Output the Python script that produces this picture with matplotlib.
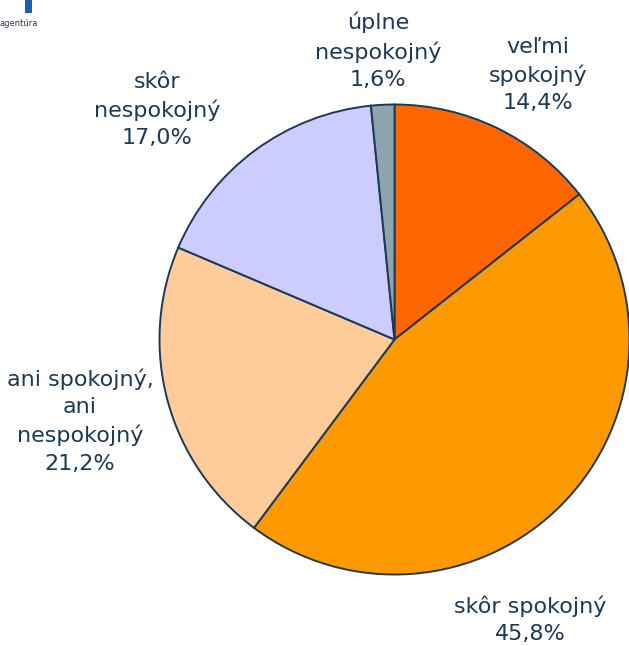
import matplotlib.pyplot as plt

labels = ["veľmi\nspokojný", "skôr spokojný", "ani spokojný,\nani\nnespokojný",
          "skôr\nnespokojný", "úplne\nnespokojný"]
values = [14.4, 45.8, 21.2, 17.0, 1.6]
colors = ["#FF6600", "#FF9900", "#FFCC99", "#CCCCFF", "#8FA5AE"]

# label positions in image pixels (x, y from top)
label_pos = [(538, 75), (530, 620), (80, 421), (157, 110), (378, 51)]

W, H = 629, 646
fig = plt.figure(figsize=(W / 100, H / 100), dpi=100)
ax = fig.add_axes([0, 0, 1, 1])

cx, cy, r = 394.5, H - 339.5, 235
ax.pie(values, colors=colors, startangle=90, counterclock=False,
       center=(cx, cy), radius=r,
       wedgeprops=dict(edgecolor="#1B3A57", linewidth=1.4))

text_color = "#1B3A57"
for lab, v, (x, y) in zip(labels, values, label_pos):
    s = lab + "\n" + f"{v:.1f}".replace(".", ",") + "%"
    ax.text(x, H - y, s, ha="center", va="center", fontsize=16,
            color=text_color, linespacing=1.45)

# logo fragment in the corner
ax.add_patch(plt.Rectangle((25, H - 13), 7, 13, color="#1F5FAF", lw=0))
ax.text(-1, H - 23, "agentúra", fontsize=6, color="#1B3A57", ha="left", va="center")

ax.set_xlim(0, W)
ax.set_ylim(0, H)
ax.axis("off")
fig.savefig("out.png", dpi=100)
